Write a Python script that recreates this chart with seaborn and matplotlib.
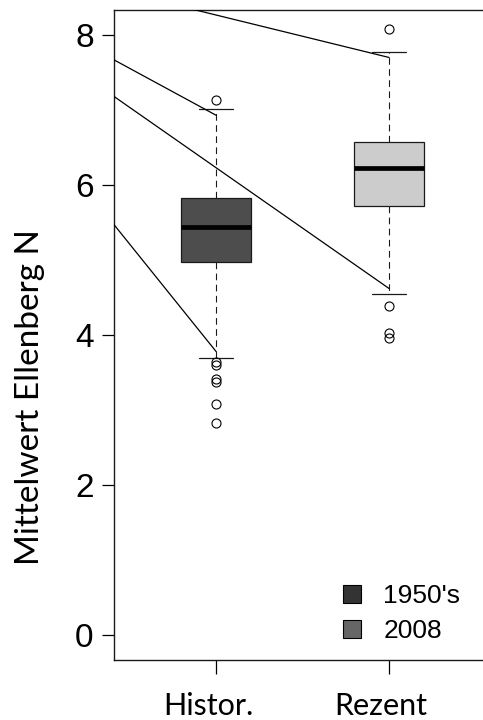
import numpy as np
import pandas as pd
import seaborn as sns
import matplotlib
matplotlib.use("Agg")
import matplotlib.pyplot as plt
from matplotlib.patches import Patch
from matplotlib.transforms import ScaledTranslation

# ---- data ----
groups = ["Histor.", "Rezent"]
# lower whisker, Q1, median, Q3, upper whisker
hist_stats = [3.70, 4.97, 5.44, 5.82, 7.01]
rez_stats = [4.54, 5.72, 6.23, 6.57, 7.77]
hist_outliers = [2.83, 3.08, 3.38, 3.42, 3.60, 3.64, 7.13]
rez_outliers = [3.96, 4.03, 4.39, 8.08]
box_colors = ["#4d4d4d", "#cccccc"]
legend_labels = ["1950's", "2008"]
legend_colors = ["#333333", "#666666"]
# annotation lines: common origin (left of the panel) to whisker ends
line_origin_x = -1.95          # in category units (Histor. = 0)
line_origin_y = 9.37
line_end_group = ["Rezent", "Histor.", "Rezent", "Histor."]
line_end_y = [7.70, 6.93, 4.62, 3.78]
yticks = [0, 2, 4, 6, 8]
ylabel = "Mittelwert Ellenberg N"


def sample(stats, outliers, rep=10):
    lo, q1, med, q3, hi = stats
    return [lo] + [q1] * rep + [med] * rep + [q3] * rep + [hi] + list(outliers)


vals_h = sample(hist_stats, hist_outliers)
vals_r = sample(rez_stats, rez_outliers)
df = pd.DataFrame({
    "group": [groups[0]] * len(vals_h) + [groups[1]] * len(vals_r),
    "value": vals_h + vals_r,
})

sns.set_style("white")
plt.rcParams["font.family"] = ["Liberation Sans", "DejaVu Sans"]
plt.rcParams["text.color"] = "black"
plt.rcParams["xtick.color"] = "black"
plt.rcParams["ytick.color"] = "black"
plt.rcParams["xtick.labelcolor"] = "black"
plt.rcParams["ytick.labelcolor"] = "black"

fig = plt.figure(figsize=(4.83, 7.2), dpi=100)
ax = fig.add_axes([114 / 483, 60 / 720, 369 / 483, 650 / 720])

sns.boxplot(
    data=df, x="group", y="value", hue="group", order=groups, hue_order=groups,
    palette=box_colors, width=0.4, legend=False, ax=ax,
    linecolor="#1a1a1a", linewidth=0.9,
    whiskerprops={"linestyle": (0, (6, 4)), "linewidth": 0.8},
    capprops={"linewidth": 0.9},
    medianprops={"color": "black", "linewidth": 3.4},
    flierprops={"marker": "o", "markersize": 6.5, "markerfacecolor": "none",
                "markeredgecolor": "black", "markeredgewidth": 0.8},
)

for g, y in zip(line_end_group, line_end_y):
    ax.plot([line_origin_x, groups.index(g)], [line_origin_y, y],
            color="black", lw=0.9, zorder=5)

ax.set_xlim(-0.59, 1.543)
ax.set_ylim(-0.333, 8.333)
ax.set_yticks(yticks)
ax.set_yticklabels([str(t) for t in yticks], fontsize=24, color="black")
ax.set_xticks(range(len(groups)))
ax.set_xticklabels(groups, fontsize=22, family=["Lato", "DejaVu Sans"], color="black")
ax.set_xlabel("")
ax.set_ylabel("")
ax.tick_params(axis="y", length=8.6, width=0.9, pad=6, direction="out", left=True,
               colors="black")
ax.tick_params(axis="x", length=10, width=0.9, pad=13, direction="out", bottom=True,
               colors="black")
shift = ScaledTranslation(-8 / 100, 0, fig.dpi_scale_trans)
for lab in ax.get_xticklabels():
    lab.set_transform(lab.get_transform() + shift)

for s in ["left", "bottom", "top"]:
    ax.spines[s].set_visible(True)
    ax.spines[s].set_color("#1a1a1a")
    ax.spines[s].set_linewidth(1.0)
ax.spines["right"].set_visible(False)

fig.text(30 / 483, 1 - 397 / 720, ylabel, rotation=90, ha="center", va="center",
         fontsize=24, family=["Lato", "DejaVu Sans"], color="black")

handles = [Patch(facecolor=c, edgecolor="black", linewidth=0.8) for c in legend_colors]
fig.legend(handles, legend_labels, loc="upper left",
           bbox_to_anchor=(343 / 483, 1 - 584 / 720), frameon=False,
           fontsize=19, handlelength=0.68, handleheight=0.68,
           handletextpad=0.85, labelspacing=0.42, borderpad=0, borderaxespad=0,
           labelcolor="black")

fig.savefig("out.png", dpi=100)
